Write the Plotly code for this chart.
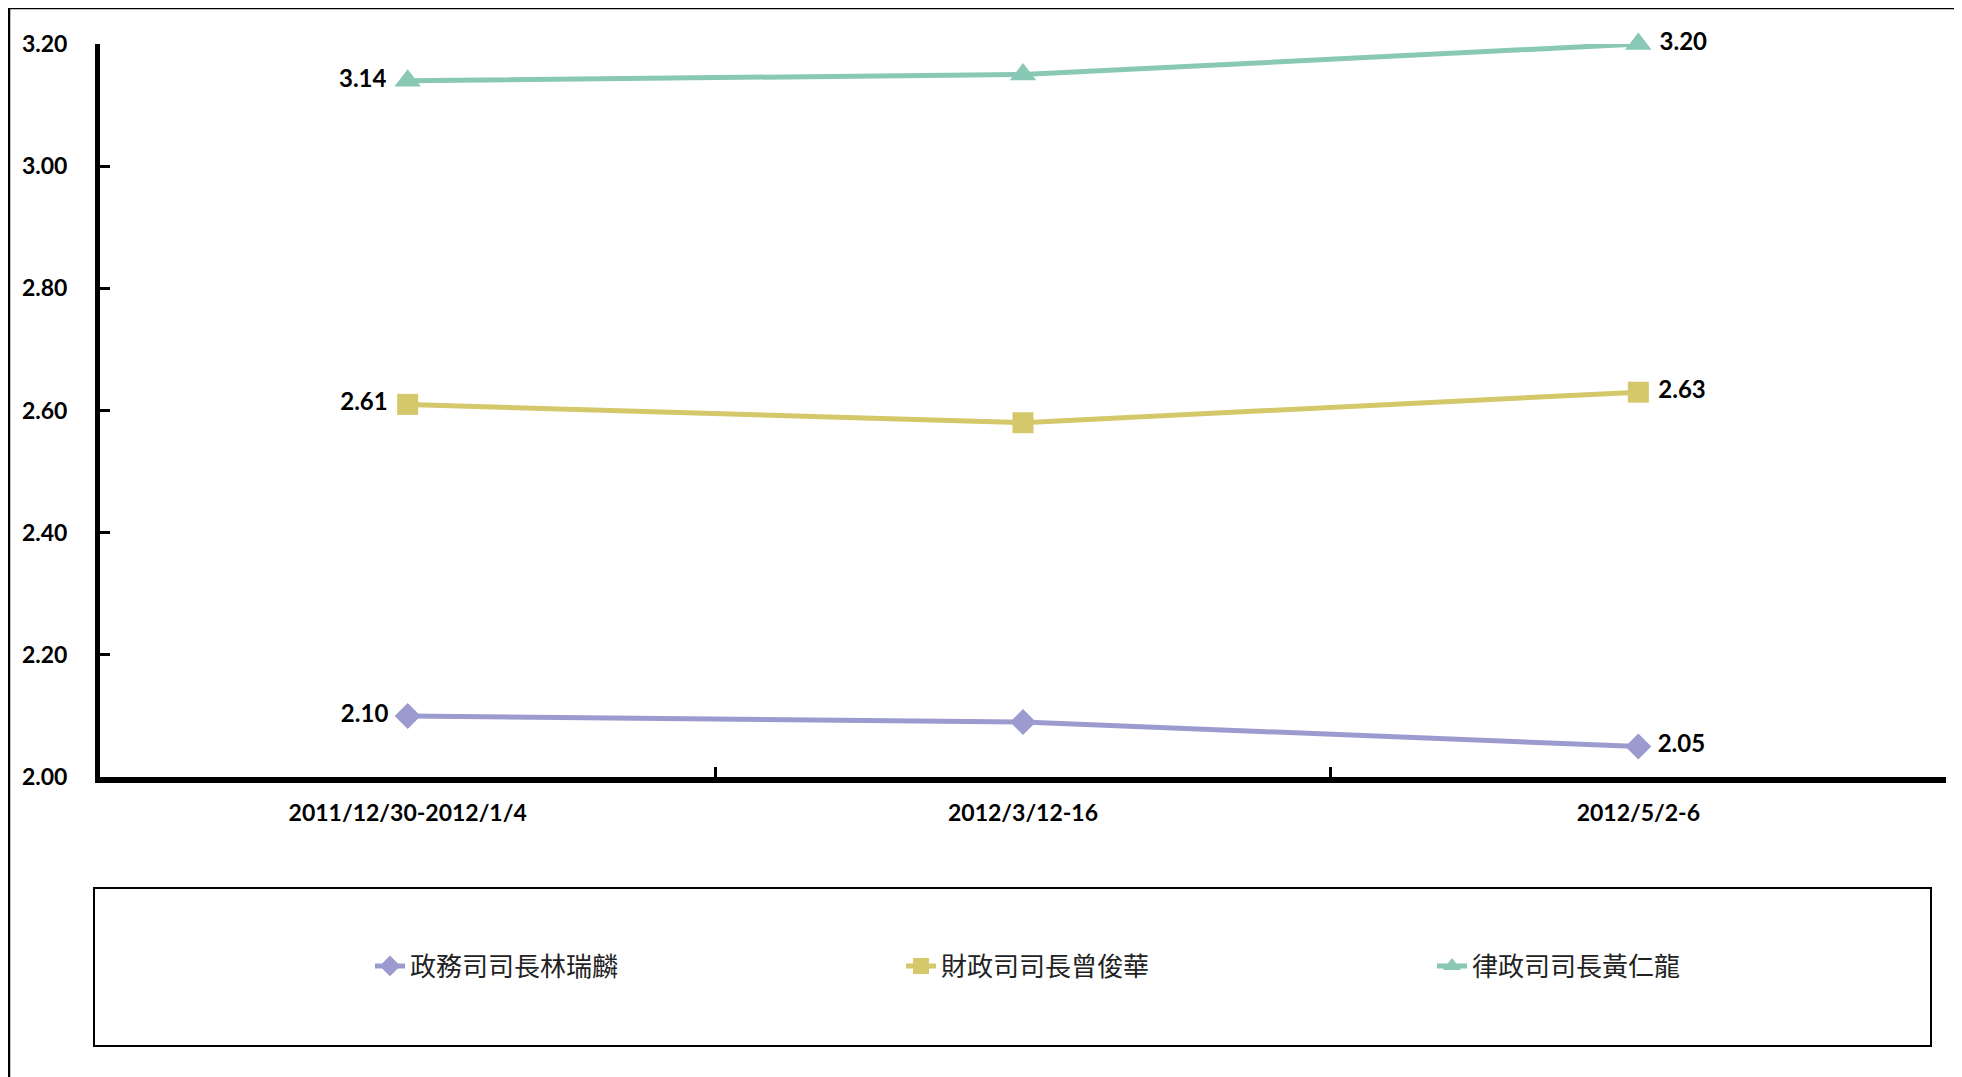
import plotly.graph_objects as go

categories = ["2011/12/30-2012/1/4", "2012/3/12-16", "2012/5/2-6"]
series_names = ["政務司司長林瑞麟", "財政司司長曾俊華", "律政司司長黃仁龍"]
vals_lin = [2.10, 2.09, 2.05]
vals_tsang = [2.61, 2.58, 2.63]
vals_wong = [3.14, 3.15, 3.20]
y_ticks = [2.00, 2.20, 2.40, 2.60, 2.80, 3.00, 3.20]

colors = ["#9B9BD0", "#D4C86A", "#88C8B4"]
symbols = ["diamond", "square", "triangle-up"]
sizes = [20, 21, 23]

NB = "\u00a0"
fig = go.Figure()
for name, vals, c, s, sz in zip(series_names, [vals_lin, vals_tsang, vals_wong], colors, symbols, sizes):
    texts = [f"{vals[0]:.2f}{NB}", "", f"{NB}{vals[-1]:.2f}"]
    fig.add_trace(go.Scatter(
        x=categories, y=vals, name=name, mode="lines+markers+text",
        line=dict(color=c, width=5),
        marker=dict(symbol=s, size=sz, color=c),
        text=texts,
        textposition=["middle left", "middle left", "middle right"],
        textfont=dict(family="Lato", size=24, color="black", weight="bold"),
        cliponaxis=False,
    ))

W, H = 1954, 1069
L, T, R, B = 92, 36, 16, 300
OFF = 8  # page body margin

fig.update_layout(
    width=W, height=H,
    margin=dict(l=L, r=R, t=T, b=B, autoexpand=False),
    plot_bgcolor="white", paper_bgcolor="white",
    showlegend=True,
    xaxis=dict(
        type="category", range=[-0.5, 2.5],
        showline=True, linecolor="black", linewidth=6,
        ticks="inside", tickson="boundaries", ticklen=10, tickwidth=3, tickcolor="black",
        tickfont=dict(family="Lato", size=23, color="black", weight="bold"),
        ticklabelstandoff=10,
        showgrid=False, zeroline=False,
    ),
    yaxis=dict(
        range=[2.0, 3.2], tickvals=y_ticks,
        ticktext=[f"{v:.2f}" for v in y_ticks],
        showline=True, linecolor="black", linewidth=5,
        ticks="inside", ticklen=10, tickwidth=3, tickcolor="black",
        tickfont=dict(family="Lato", size=23, color="black", weight="bold"),
        ticklabelstandoff=23,
        showgrid=False, zeroline=False,
    ),
)

# screen pixel -> paper helpers
pw = W - L - R
ph = H - T - B
def px(x):
    return (x - OFF - L) / pw
def py(y):
    return 1 - (y - OFF - T) / ph

fig.update_layout(legend=dict(
    orientation="h", x=px(370), xanchor="left", y=py(966), yanchor="middle",
    font=dict(family="Noto Sans CJK TC", size=26, color="#222"),
    entrywidth=486, entrywidthmode="pixels",
    bgcolor="rgba(0,0,0,0)", borderwidth=0,
))

# legend box
fig.add_shape(type="rect", xref="paper", yref="paper",
              x0=px(94), x1=px(1931), y0=py(1046), y1=py(888),
              line=dict(color="black", width=2), fillcolor="rgba(0,0,0,0)", layer="below")
# outer chart border (left and top visible)
fig.add_shape(type="line", xref="paper", yref="paper",
              x0=px(9), x1=px(9), y0=py(8), y1=py(1080), line=dict(color="black", width=2.5))
fig.add_shape(type="line", xref="paper", yref="paper",
              x0=px(9), x1=px(1965), y0=py(8), y1=py(8), line=dict(color="black", width=2.5))

fig.write_html("out.html")
